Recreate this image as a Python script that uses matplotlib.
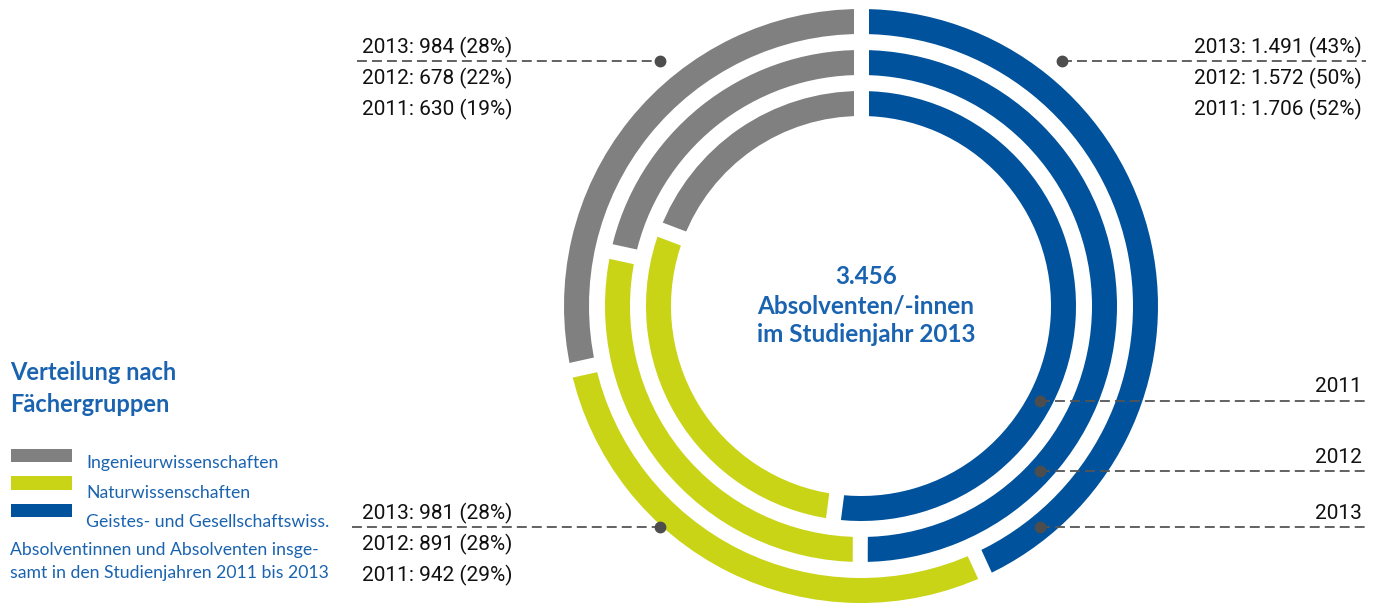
import numpy as np
import matplotlib.pyplot as plt
from matplotlib.patches import Wedge, Polygon

# Absolventen nach Fächergruppe, Studienjahre 2011-2013
years = ['2011', '2012', '2013']
geistes = [1706, 1572, 1491]
natur = [942, 891, 981]
ingenieur = [630, 678, 984]
pct_geistes = [52, 50, 43]
pct_natur = [29, 28, 28]
pct_ingenieur = [19, 22, 28]
total_2013 = 3456

groups = ['Ingenieurwissenschaften', 'Naturwissenschaften', 'Geistes- und Gesellschaftswiss.']
c_gray = '#808080'
c_green = '#C9D416'
c_blue = '#00529C'
c_text_blue = '#1A63B0'
c_lead = '#555555'

W, H = 1379, 604
fig = plt.figure(figsize=(W / 100, H / 100), dpi=100)
ax = fig.add_axes([0, 0, 1, 1])
ax.set_xlim(0, W)
ax.set_ylim(0, H)
ax.set_aspect('equal')
ax.axis('off')


def Y(y):
    # top-down pixel row -> axis y
    return H - y


cx, cy = 861, Y(306)
ring_outer = {'2011': 215, '2012': 256, '2013': 297}
ring_w = 25
gap = 15


def cut(a, r0, r1):
    # white band across the ring at clockwise angle a (deg from top)
    t = np.radians(a)
    u = np.array([np.sin(t), np.cos(t)])
    n = np.array([np.cos(t), -np.sin(t)])
    c = np.array([cx, cy])
    pts = [c + u * r0 - n * gap / 2, c + u * r1 - n * gap / 2,
           c + u * r1 + n * gap / 2, c + u * r0 + n * gap / 2]
    ax.add_patch(Polygon(pts, closed=True, fc='white', ec='none', zorder=3))


for i, yr in enumerate(years):
    vals = [geistes[i], natur[i], ingenieur[i]]
    cols = [c_blue, c_green, c_gray]
    tot = sum(vals)
    r = ring_outer[yr]
    a0 = 0.0
    for v, col in zip(vals, cols):
        a1 = a0 + 360.0 * v / tot
        ax.add_patch(Wedge((cx, cy), r, 90 - a1, 90 - a0, width=ring_w,
                           fc=col, ec='none', zorder=2))
        cut(a0, r - ring_w - 3, r + 3)
        a0 = a1


def fmt(v):
    return f'{v:,}'.replace(',', '.')


# center label
center_kw = dict(ha='center', va='center', fontsize=17.5, fontweight='bold',
                 color=c_text_blue, family='Lato')
ax.text(866, Y(276), fmt(total_2013), **center_kw)
ax.text(866, Y(306), 'Absolventen/-innen', **center_kw)
ax.text(866, Y(334), 'im Studienjahr 2013', **center_kw)

lead_kw = dict(color=c_lead, lw=1.3, linestyle=(0, (5.5, 2.8)), zorder=4)
dot_kw = dict(marker='o', ms=7.5, color='#4D4D4D', zorder=5, ls='none')
num_kw = dict(fontsize=15, color='#111111', family='Roboto')

# upper left: Ingenieurwissenschaften
r_lab = 317
dy = cy - Y(61)
dx = np.sqrt(r_lab ** 2 - dy ** 2)
ax.plot([357, cx - dx], [Y(61), Y(61)], **lead_kw)
ax.plot([cx - dx], [Y(61)], **dot_kw)
for j, yr in enumerate(reversed(years)):
    k = len(years) - 1 - j
    ax.text(362, Y(47 + 31 * j), f'{yr}: {fmt(ingenieur[k])} ({pct_ingenieur[k]}%)',
            ha='left', va='center', **num_kw)

# upper right: Geistes- und Gesellschaftswiss.
ax.plot([cx + dx, 1366], [Y(61), Y(61)], **lead_kw)
ax.plot([cx + dx], [Y(61)], **dot_kw)
for j, yr in enumerate(reversed(years)):
    k = len(years) - 1 - j
    ax.text(1362, Y(47 + 31 * j), f'{yr}: {fmt(geistes[k])} ({pct_geistes[k]}%)',
            ha='right', va='center', **num_kw)

# lower left: Naturwissenschaften
dy2 = Y(527) - cy
dx2 = np.sqrt(299 ** 2 - dy2 ** 2)
ax.plot([352, cx - dx2], [Y(527), Y(527)], **lead_kw)
ax.plot([cx - dx2], [Y(527)], **dot_kw)
for j, yr in enumerate(reversed(years)):
    k = len(years) - 1 - j
    ax.text(362, Y(513 + 31 * j), f'{yr}: {fmt(natur[k])} ({pct_natur[k]}%)',
            ha='left', va='center', **num_kw)

# year markers on the right side of the rings
mx = 179
for yr in years:
    rm = ring_outer[yr] - ring_w / 2
    my = cy - np.sqrt(rm ** 2 - mx ** 2)
    ax.plot([cx + mx, 1368], [my, my], **lead_kw)
    ax.plot([cx + mx], [my], **dot_kw)
    ax.text(1362, my + 14, yr, ha='right', va='center', **num_kw)

# legend block
title_kw = dict(ha='left', va='center', fontsize=17, fontweight='bold',
                color=c_text_blue, family='Lato')
ax.text(10, Y(373), 'Verteilung nach', **title_kw)
ax.text(10, Y(404), 'Fächergruppen', **title_kw)
small_kw = dict(ha='left', va='center', fontsize=12.7, color=c_text_blue, family='Lato')
for i, (g, col) in enumerate(zip(groups, [c_gray, c_green, c_blue])):
    ax.add_patch(plt.Rectangle((11, Y(462 + 27.5 * i)), 61, 13.5, fc=col, ec='none'))
    ax.text(86, Y(463 + 29.5 * i), g, **small_kw)
ax.text(10, Y(550), 'Absolventinnen und Absolventen insge-', **small_kw)
ax.text(10, Y(573), 'samt in den Studienjahren 2011 bis 2013', **small_kw)

fig.savefig('out.png', dpi=100)
